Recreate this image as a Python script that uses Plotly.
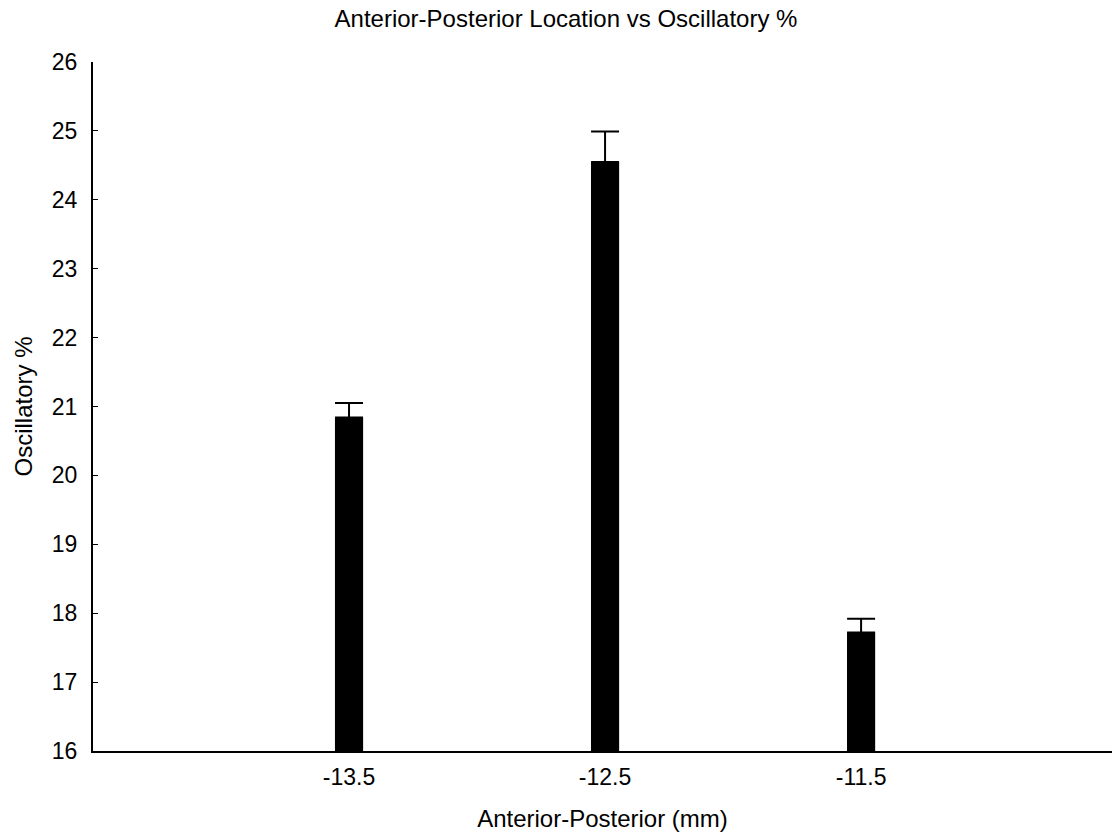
import plotly.graph_objects as go

positions = [-13.5, -12.5, -11.5]
values = [20.84, 24.55, 17.72]
errors = [0.21, 0.44, 0.20]
y_ticks = [16, 17, 18, 19, 20, 21, 22, 23, 24, 25, 26]
x_ticks = [-13.5, -12.5, -11.5]
y_floor = 16

FONT = "Liberation Sans, Arial, sans-serif"

fig = go.Figure()
fig.add_trace(go.Bar(
    x=positions,
    y=[v - y_floor for v in values],
    base=y_floor,
    width=0.11,
    marker=dict(color="black", line=dict(width=0)),
    error_y=dict(type="data", array=errors, arrayminus=[0] * len(errors),
                 color="black", thickness=2, width=14),
    showlegend=False,
))

fig.update_layout(
    width=1112, height=835,
    margin=dict(l=93, r=0, t=62, b=84),
    paper_bgcolor="white", plot_bgcolor="white",
    font=dict(family=FONT, size=23, color="black"),
    title=dict(text="Anterior-Posterior Location vs Oscillatory %",
               x=0.509, xanchor="center", y=0.978, yanchor="middle",
               font=dict(family=FONT, size=24, color="black")),
    xaxis=dict(
        range=[-14.5, -10.52], tickvals=x_ticks,
        ticktext=[str(t) for t in x_ticks],
        showgrid=False, zeroline=False, showline=True,
        linecolor="black", linewidth=2, ticks="",
        ticklabelstandoff=4,
        title=dict(text="Anterior-Posterior (mm)", standoff=22,
                   font=dict(family=FONT, size=24)),
        tickfont=dict(family=FONT, size=23),
    ),
    yaxis=dict(
        range=[16, 26], tickvals=y_ticks,
        showgrid=False, zeroline=False, showline=True,
        linecolor="black", linewidth=2, ticks="inside", ticklen=5,
        tickcolor="black", tickwidth=1,
        ticklabelstandoff=9,
        title=dict(text="Oscillatory %", standoff=12,
                   font=dict(family=FONT, size=24)),
        tickfont=dict(family=FONT, size=23),
    ),
)

fig.write_html("out.html")
